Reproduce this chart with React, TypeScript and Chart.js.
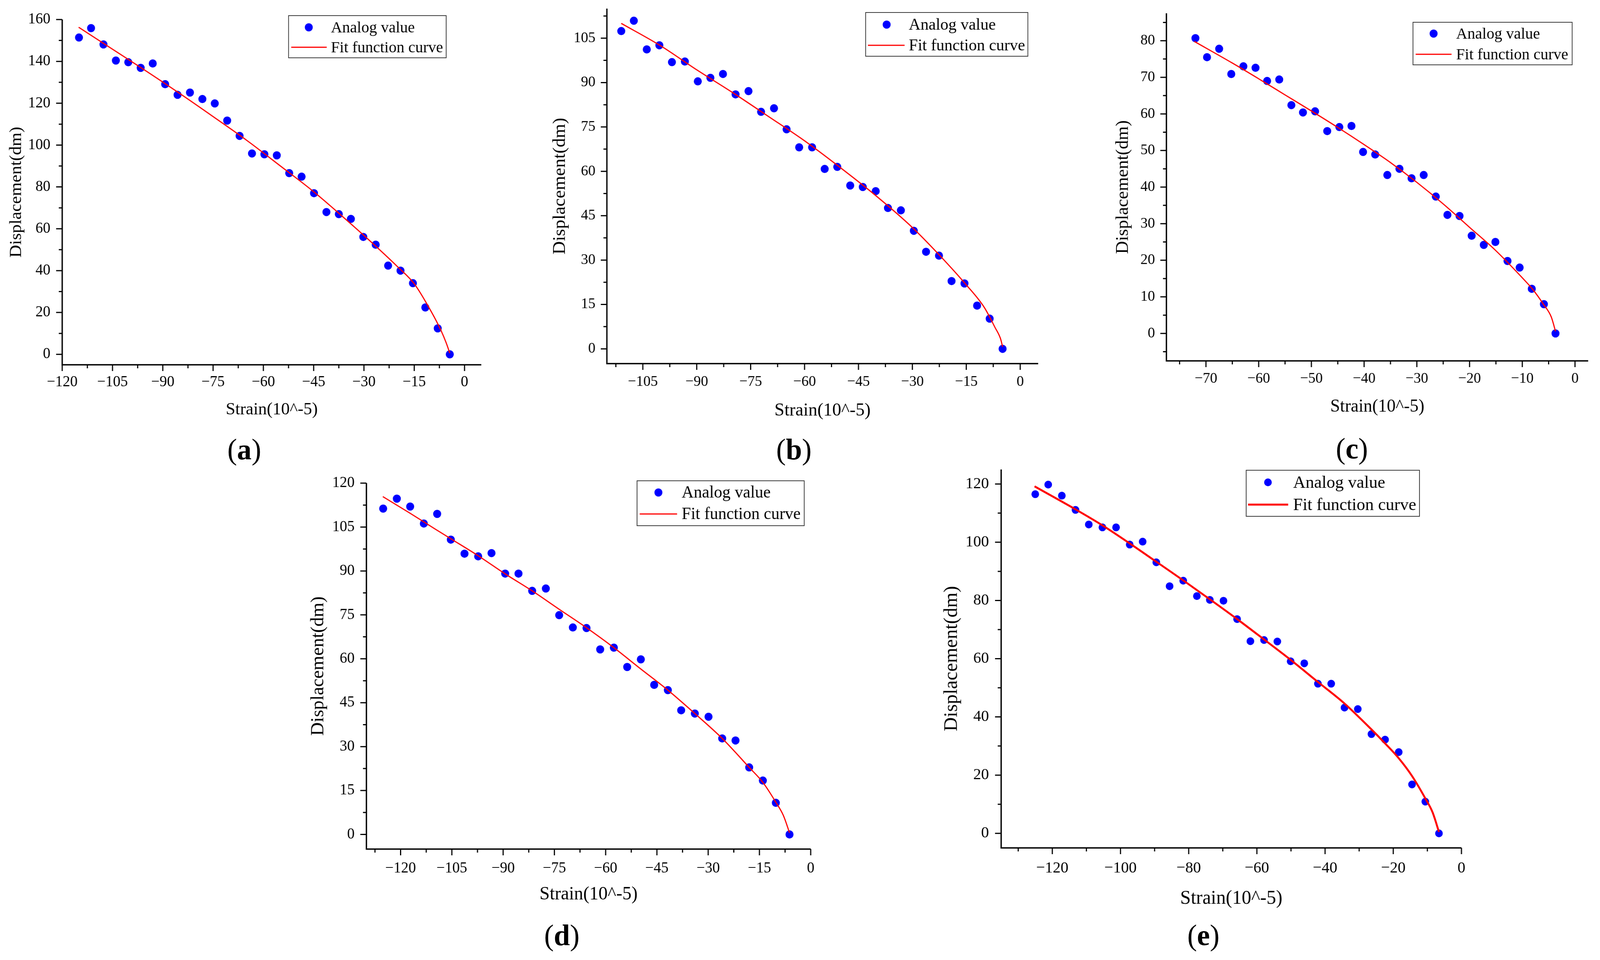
import React, { useEffect, useRef } from "react";
import { Chart, registerables } from "chart.js";

Chart.register(...registerables);
Chart.defaults.font.family = "'Liberation Serif', 'Times New Roman', serif";
Chart.defaults.color = "#000";

// ---------------- DATA ----------------
const X_TITLE = "Strain(10^-5)";
const Y_TITLE = "Displacement(dm)";
const SCATTER_LABEL = "Analog value";
const FIT_LABEL = "Fit function curve";

// (a)
const strainA = [-115.0, -111.4, -107.7, -104.0, -100.3, -96.6, -93.0, -89.3, -85.6, -81.9, -78.2, -74.5, -70.8, -67.1, -63.4, -59.7, -56.0, -52.3, -48.6, -44.9, -41.2, -37.5, -33.9, -30.2, -26.5, -22.8, -19.1, -15.4, -11.7, -8.0, -4.4];
const dispA = [151.4, 155.9, 148.1, 140.4, 139.6, 136.9, 139.0, 129.1, 124.0, 125.1, 122.0, 119.9, 111.7, 104.4, 96.0, 95.6, 95.1, 86.6, 84.9, 77.0, 68.0, 67.0, 64.7, 56.1, 52.4, 42.4, 40.0, 34.0, 22.4, 12.4, 0];
const fitStrainA = [-115.1, -105, -95, -85, -75, -65, -55, -45, -35, -25, -20, -15, -10, -7, -5.5, -4.4];
const fitDispA = [156.3, 145.8, 135.4, 124.7, 113.6, 102.3, 90.1, 77.7, 63.9, 49.5, 41.9, 33.7, 20.6, 11.3, 5.6, 0.6];
const xMajorA = [-120, -105, -90, -75, -60, -45, -30, -15, 0];
const xMinorA = [-112.5, -97.5, -82.5, -67.5, -52.5, -37.5, -22.5, -7.5];
const yMajorA = [0, 20, 40, 60, 80, 100, 120, 140, 160];
const yMinorA = [10, 30, 50, 70, 90, 110, 130, 150];

// (b)
const strainB = [-111.0, -107.5, -103.9, -100.4, -96.9, -93.3, -89.7, -86.2, -82.7, -79.2, -75.6, -72.1, -68.5, -65.0, -61.5, -57.9, -54.4, -50.9, -47.3, -43.8, -40.2, -36.8, -33.2, -29.6, -26.2, -22.6, -19.1, -15.5, -12.0, -8.5, -4.9];
const dispB = [107.4, 110.9, 101.2, 102.6, 96.9, 97.1, 90.4, 91.6, 92.9, 86.0, 87.1, 80.1, 81.3, 74.2, 68.1, 68.1, 60.8, 61.5, 55.2, 54.7, 53.3, 47.6, 46.8, 39.9, 32.8, 31.5, 22.9, 22.1, 14.6, 10.2, 0];
const fitStrainB = [-111, -100, -90, -80, -70, -60, -50, -40, -30, -22.5, -15, -10, -7, -5.5, -4.9];
const fitDispB = [110.0, 102.4, 94.3, 86.6, 78.5, 70.3, 61.2, 51.6, 41.0, 31.7, 21.6, 14.0, 7.2, 3.5, 0.7];
const xMajorB = [-105, -90, -75, -60, -45, -30, -15, 0];
const xMinorB = [-112.5, -97.5, -82.5, -67.5, -52.5, -37.5, -22.5, -7.5];
const yMajorB = [0, 15, 30, 45, 60, 75, 90, 105];
const yMinorB = [7.5, 22.5, 37.5, 52.5, 67.5, 82.5, 97.5, 112.5];

// (c)
const strainC = [-72.0, -69.8, -67.5, -65.2, -62.9, -60.6, -58.4, -56.1, -53.8, -51.6, -49.3, -47.0, -44.7, -42.4, -40.2, -37.9, -35.6, -33.3, -31.0, -28.7, -26.4, -24.2, -21.9, -19.6, -17.3, -15.1, -12.8, -10.5, -8.2, -5.9, -3.7];
const dispC = [80.7, 75.5, 77.8, 70.9, 73.0, 72.6, 69.0, 69.4, 62.4, 60.4, 60.7, 55.3, 56.4, 56.7, 49.6, 48.9, 43.3, 45.0, 42.4, 43.3, 37.4, 32.4, 32.1, 26.7, 24.2, 25.0, 19.8, 18.0, 12.2, 8.0, 0];
const fitStrainC = [-72.2, -65, -60, -55, -50, -45, -40, -35, -30, -25, -20, -15, -10, -8, -6, -4.5, -3.7];
const fitDispC = [79.8, 73.9, 69.6, 65.2, 60.8, 56.3, 51.6, 46.7, 41.3, 35.4, 29.0, 22.6, 15.2, 12.0, 8.0, 4.5, 0.6];
const xMajorC = [-70, -60, -50, -40, -30, -20, -10, 0];
const xMinorC = [-75, -65, -55, -45, -35, -25, -15, -5];
const yMajorC = [0, 10, 20, 30, 40, 50, 60, 70, 80];
const yMinorC = [-5, 5, 15, 25, 35, 45, 55, 65, 75, 85];

// (d)
const strainD = [-125.1, -121.1, -117.2, -113.2, -109.3, -105.3, -101.3, -97.3, -93.4, -89.4, -85.5, -81.5, -77.5, -73.6, -69.6, -65.6, -61.6, -57.6, -53.7, -49.7, -45.8, -41.8, -37.9, -33.9, -29.9, -25.9, -22.0, -18.0, -14.0, -10.2, -6.2];
const dispD = [111.3, 114.7, 112.0, 106.2, 109.5, 100.7, 95.9, 95.0, 96.1, 89.1, 89.1, 83.2, 84.0, 74.9, 70.7, 70.5, 63.2, 63.8, 57.2, 59.8, 51.1, 49.3, 42.4, 41.3, 40.2, 32.8, 32.1, 22.9, 18.4, 10.8, 0];
const fitStrainD = [-125.2, -117.2, -110, -105.3, -97.3, -89.4, -81.5, -73.6, -65.6, -57.6, -49.7, -41.8, -33.9, -25.9, -18, -14, -10.2, -8, -6.2];
const fitDispD = [115.4, 109.7, 104.4, 101.0, 95.2, 89.0, 83.2, 76.9, 70.6, 63.8, 56.5, 49.3, 41.3, 32.8, 22.9, 17.8, 11.0, 6.5, 0.6];
const xMajorD = [-120, -105, -90, -75, -60, -45, -30, -15, 0];
const xMinorD = [-127.5, -112.5, -97.5, -82.5, -67.5, -52.5, -37.5, -22.5, -7.5];
const yMajorD = [0, 15, 30, 45, 60, 75, 90, 105, 120];
const yMinorD = [7.5, 22.5, 37.5, 52.5, 67.5, 82.5, 97.5, 112.5];

// (e)
const strainE = [-125.0, -121.2, -117.2, -113.2, -109.3, -105.3, -101.3, -97.3, -93.5, -89.5, -85.6, -81.6, -77.6, -73.8, -69.8, -65.8, -61.9, -57.9, -54.0, -50.1, -46.1, -42.1, -38.2, -34.3, -30.4, -26.4, -22.4, -18.4, -14.5, -10.6, -6.6];
const dispE = [116.5, 119.8, 116.0, 111.1, 106.1, 105.1, 105.1, 99.2, 100.2, 93.1, 84.9, 86.8, 81.5, 80.2, 79.9, 73.6, 66.0, 66.4, 65.9, 59.1, 58.4, 51.4, 51.4, 43.2, 42.7, 34.1, 32.2, 27.9, 16.8, 10.9, 0];
const fitStrainE = [-125.2, -113.2, -105.3, -97.3, -89.5, -81.6, -73.8, -65.8, -57.9, -50.1, -42.1, -34.3, -26.4, -22.4, -18.4, -14.5, -10.6, -8.5, -6.6];
const fitDispE = [119.2, 111.3, 105.8, 99.6, 93.3, 86.9, 80.4, 73.6, 66.6, 59.6, 52.0, 44.6, 35.7, 30.9, 25.8, 19.7, 12.0, 7.3, 0.5];
const xMajorE = [-120, -100, -80, -60, -40, -20, 0];
const xMinorE = [-130, -110, -90, -70, -50, -30, -10];
const yMajorE = [0, 20, 40, 60, 80, 100, 120];
const yMinorE = [10, 30, 50, 70, 90, 110];

// ---------------- LAYOUT (figure pixels, 4192 x 2458) ----------------
const FIG_W = 4192;
const FIG_H = 2458;

type Panel = {
  tag: string;
  sx: number[]; sy: number[]; fx: number[]; fy: number[];
  xMajor: number[]; xMinor: number[]; yMajor: number[]; yMinor: number[];
  xMin: number; xMax: number; yMin: number; yMax: number;
  ca: { l: number; t: number; r: number; b: number };
  yTitleOff: number; xTitleOff: number; yGap: number; xLabelOff: number;
  tickSize: number; titleSize: number; legendSize: number;
  markerR: number; lineW: number;
  lg: { x0: number; y0: number; x1: number; y1: number; mx: number; lx0: number; lx1: number; tx: number; r1: number; r2: number };
  sub: { x: number; y: number };
};

const PANELS: Panel[] = [
  {
    tag: "a", sx: strainA, sy: dispA, fx: fitStrainA, fy: fitDispA,
    xMajor: xMajorA, xMinor: xMinorA, yMajor: yMajorA, yMinor: yMinorA,
    xMin: -120, xMax: 5, yMin: -5, yMax: 160,
    ca: { l: 163, t: 50, r: 1261, b: 934 },
    yTitleOff: 120, xTitleOff: 115, yGap: 31, xLabelOff: 45,
    tickSize: 39, titleSize: 45, legendSize: 41, markerR: 10.5, lineW: 3,
    lg: { x0: 756, y0: 40, x1: 1169, y1: 148, mx: 809, lx0: 763, lx1: 856, tx: 867, r1: 70, r2: 121 },
    sub: { x: 640, y: 1150 },
  },
  {
    tag: "b", sx: strainB, sy: dispB, fx: fitStrainB, fy: fitDispB,
    xMajor: xMajorB, xMinor: xMinorB, yMajor: yMajorB, yMinor: yMinorB,
    xMin: -115, xMax: 5, yMin: -5, yMax: 115,
    ca: { l: 1590, t: 22, r: 2720, b: 931 },
    yTitleOff: 123, xTitleOff: 121, yGap: 30, xLabelOff: 47,
    tickSize: 38, titleSize: 47, legendSize: 42.5, markerR: 10.5, lineW: 3,
    lg: { x0: 2268, y0: 32, x1: 2693, y1: 144, mx: 2323, lx0: 2274, lx1: 2370, tx: 2381, r1: 63, r2: 116 },
    sub: { x: 2080, y: 1150 },
  },
  {
    tag: "c", sx: strainC, sy: dispC, fx: fitStrainC, fy: fitDispC,
    xMajor: xMajorC, xMinor: xMinorC, yMajor: yMajorC, yMinor: yMinorC,
    xMin: -77.5, xMax: 2.5, yMin: -7.5, yMax: 87.5,
    ca: { l: 3056, t: 34, r: 4161, b: 924 },
    yTitleOff: 113, xTitleOff: 118, yGap: 30, xLabelOff: 46,
    tickSize: 38, titleSize: 46, legendSize: 41, markerR: 10.5, lineW: 3,
    lg: { x0: 3702, y0: 57, x1: 4119, y1: 166, mx: 3756, lx0: 3709, lx1: 3803, tx: 3815, r1: 86, r2: 139 },
    sub: { x: 3542, y: 1148 },
  },
  {
    tag: "d", sx: strainD, sy: dispD, fx: fitStrainD, fy: fitDispD,
    xMajor: xMajorD, xMinor: xMinorD, yMajor: yMajorD, yMinor: yMinorD,
    xMin: -130, xMax: 0, yMin: -5, yMax: 120,
    ca: { l: 960, t: 1237, r: 2124, b: 2174 },
    yTitleOff: 125, xTitleOff: 116, yGap: 31, xLabelOff: 50,
    tickSize: 39, titleSize: 48, legendSize: 43.5, markerR: 10.5, lineW: 3,
    lg: { x0: 1669, y0: 1231, x1: 2107, y1: 1346, mx: 1725, lx0: 1676, lx1: 1774, tx: 1786, r1: 1261, r2: 1316 },
    sub: { x: 1472, y: 2394 },
  },
  {
    tag: "e", sx: strainE, sy: dispE, fx: fitStrainE, fy: fitDispE,
    xMajor: xMajorE, xMinor: xMinorE, yMajor: yMajorE, yMinor: yMinorE,
    xMin: -135, xMax: 0, yMin: -5, yMax: 125,
    ca: { l: 2623, t: 1202, r: 3829, b: 2171 },
    yTitleOff: 129, xTitleOff: 130, yGap: 32, xLabelOff: 52,
    tickSize: 41, titleSize: 50, legendSize: 45, markerR: 10, lineW: 5,
    lg: { x0: 3265, y0: 1204, x1: 3719, y1: 1322, mx: 3322, lx0: 3270, lx1: 3375, tx: 3388, r1: 1235, r2: 1292 },
    sub: { x: 3153, y: 2394 },
  },
];

const PADT = 62;
const PADR = 45;
const PADB = 8;
const FONT = "'Liberation Serif', 'Times New Roman', serif";

const fmt = (v: number) => (v < 0 ? "\u2212" + String(Math.abs(v)) : String(v));

function geometry(p: Panel) {
  const titleLH = p.titleSize * 1.2;
  const cLeft = Math.round(p.ca.l - (p.yTitleOff + titleLH / 2));
  const cTop = p.ca.t - PADT;
  const cW = p.ca.r + PADR - cLeft;
  const cH = Math.round(p.ca.b + p.xTitleOff + titleLH / 2 + PADB - cTop);
  const Wy = p.ca.l - cLeft;
  const Hx = cH - PADB - (p.ca.b - cTop);
  return { cLeft, cTop, cW, cH, Wy, Hx };
}

function PanelChart({ p }: { p: Panel }) {
  const ref = useRef<HTMLCanvasElement | null>(null);
  const g = geometry(p);

  useEffect(() => {
    if (!ref.current) return;
    const MAJ = 16, MIN = 9, AXW = 3.5, TW = 3;

    const axesPlugin = {
      id: "originAxes" + p.tag,
      afterDraw(chart: any) {
        const { ctx, chartArea } = chart;
        const { left, right, top, bottom } = chartArea;
        const xs = chart.scales.x, ys = chart.scales.y;
        ctx.save();
        ctx.strokeStyle = "#000";
        ctx.lineCap = "butt";
        ctx.lineWidth = AXW;
        ctx.beginPath();
        ctx.moveTo(left, top);
        ctx.lineTo(left, bottom + AXW / 2);
        ctx.moveTo(left - AXW / 2, bottom);
        ctx.lineTo(right, bottom);
        ctx.stroke();
        ctx.lineWidth = TW;
        ctx.beginPath();
        p.xMajor.forEach((v) => { const px = xs.getPixelForValue(v); ctx.moveTo(px, bottom); ctx.lineTo(px, bottom + MAJ); });
        p.xMinor.forEach((v) => { const px = xs.getPixelForValue(v); ctx.moveTo(px, bottom); ctx.lineTo(px, bottom + MIN); });
        p.yMajor.forEach((v) => { const py = ys.getPixelForValue(v); ctx.moveTo(left, py); ctx.lineTo(left - MAJ, py); });
        p.yMinor.forEach((v) => { const py = ys.getPixelForValue(v); ctx.moveTo(left, py); ctx.lineTo(left - MIN, py); });
        ctx.stroke();
        ctx.restore();
      },
    };

    const legendPlugin = {
      id: "boxLegend" + p.tag,
      afterDraw(chart: any) {
        const { ctx } = chart;
        const ox = g.cLeft, oy = g.cTop;
        const lg = p.lg;
        const fit = chart.data.datasets[0];
        const sc = chart.data.datasets[1];
        ctx.save();
        ctx.strokeStyle = "#3c3c3c";
        ctx.lineWidth = 2;
        ctx.strokeRect(lg.x0 - ox, lg.y0 - oy, lg.x1 - lg.x0, lg.y1 - lg.y0);
        ctx.fillStyle = sc.backgroundColor;
        ctx.beginPath();
        ctx.arc(lg.mx - ox, lg.r1 - oy, p.markerR, 0, Math.PI * 2);
        ctx.fill();
        ctx.strokeStyle = fit.borderColor;
        ctx.lineWidth = fit.borderWidth;
        ctx.beginPath();
        ctx.moveTo(lg.lx0 - ox, lg.r2 - oy);
        ctx.lineTo(lg.lx1 - ox, lg.r2 - oy);
        ctx.stroke();
        ctx.fillStyle = "#000";
        ctx.font = `${p.legendSize}px ${FONT}`;
        ctx.textAlign = "left";
        ctx.textBaseline = "middle";
        ctx.fillText(sc.label, lg.tx - ox, lg.r1 - oy + 2);
        ctx.fillText(fit.label, lg.tx - ox, lg.r2 - oy + 2);
        ctx.restore();
      },
    };

    const tickLH = p.tickSize * 1.2;
    const chart = new Chart(ref.current, {
      type: "scatter",
      data: {
        datasets: [
          {
            type: "line",
            label: FIT_LABEL,
            data: p.fx.map((x, i) => ({ x, y: p.fy[i] })),
            borderColor: "#FF0000",
            backgroundColor: "#FF0000",
            borderWidth: p.lineW,
            pointRadius: 0,
            fill: false,
            cubicInterpolationMode: "monotone",
            order: 0,
          } as any,
          {
            type: "scatter",
            label: SCATTER_LABEL,
            data: p.sx.map((x, i) => ({ x, y: p.sy[i] })),
            backgroundColor: "#0000FF",
            borderColor: "#0000FF",
            borderWidth: 0,
            pointRadius: p.markerR,
            pointHoverRadius: p.markerR,
            order: 1,
          } as any,
        ],
      },
      options: {
        animation: false,
        responsive: false,
        devicePixelRatio: 1,
        events: [],
        layout: { padding: { top: PADT, right: PADR, bottom: PADB, left: 0 } },
        plugins: {
          legend: { display: false },
          tooltip: { enabled: false },
          title: { display: false },
        },
        scales: {
          x: {
            type: "linear",
            min: p.xMin,
            max: p.xMax,
            afterBuildTicks: (s: any) => { s.ticks = p.xMajor.map((v) => ({ value: v })); },
            afterFit: (s: any) => { s.height = g.Hx; },
            grid: { display: false, drawTicks: false },
            border: { display: false },
            ticks: {
              autoSkip: false,
              maxRotation: 0,
              minRotation: 0,
              padding: p.xLabelOff - tickLH / 2,
              color: "#000",
              font: { size: p.tickSize, family: FONT },
              callback: (v: any) => fmt(Number(v)),
            },
            title: { display: true, text: X_TITLE, color: "#000", padding: 0, font: { size: p.titleSize, family: FONT } },
          },
          y: {
            type: "linear",
            min: p.yMin,
            max: p.yMax,
            afterBuildTicks: (s: any) => { s.ticks = p.yMajor.map((v) => ({ value: v })); },
            afterFit: (s: any) => { s.width = g.Wy; },
            grid: { display: false, drawTicks: false },
            border: { display: false },
            ticks: {
              autoSkip: false,
              padding: p.yGap,
              color: "#000",
              font: { size: p.tickSize, family: FONT },
              callback: (v: any) => fmt(Number(v)),
            },
            title: { display: true, text: Y_TITLE, color: "#000", padding: 0, font: { size: p.titleSize, family: FONT } },
          },
        },
      } as any,
      plugins: [axesPlugin, legendPlugin],
    });
    return () => chart.destroy();
  }, []);

  return (
    <>
      <canvas
        ref={ref}
        width={g.cW}
        height={g.cH}
        style={{ position: "absolute", left: g.cLeft, top: g.cTop, width: g.cW, height: g.cH }}
      />
      <div
        style={{
          position: "absolute",
          left: p.sub.x,
          top: p.sub.y,
          transform: "translate(-50%, -50%)",
          fontFamily: FONT,
          fontSize: 76,
          lineHeight: 1,
          color: "#000",
          whiteSpace: "nowrap",
        }}
      >
        (<b>{p.tag}</b>)
      </div>
    </>
  );
}

export default function App() {
  // The browser viewport may be narrower/shorter than the figure; fit the figure to it.
  const vw = typeof window !== "undefined" ? window.innerWidth || FIG_W : FIG_W;
  const vh = typeof window !== "undefined" ? window.innerHeight || FIG_H : FIG_H;
  const sx = Math.min(1, vw / FIG_W);
  const sy = Math.min(1, vh / FIG_H);
  return (
    <div
      style={{
        position: "absolute",
        left: 0,
        top: 0,
        width: Math.min(vw, FIG_W),
        height: Math.min(vh, FIG_H),
        overflow: "hidden",
        background: "#fff",
      }}
    >
      <div
        style={{
          position: "absolute",
          left: 0,
          top: 0,
          width: FIG_W,
          height: FIG_H,
          overflow: "hidden",
          background: "#fff",
          transform: `scale(${sx}, ${sy})`,
          transformOrigin: "0 0",
        }}
      >
        {PANELS.map((p) => (
          <PanelChart key={p.tag} p={p} />
        ))}
      </div>
    </div>
  );
}
